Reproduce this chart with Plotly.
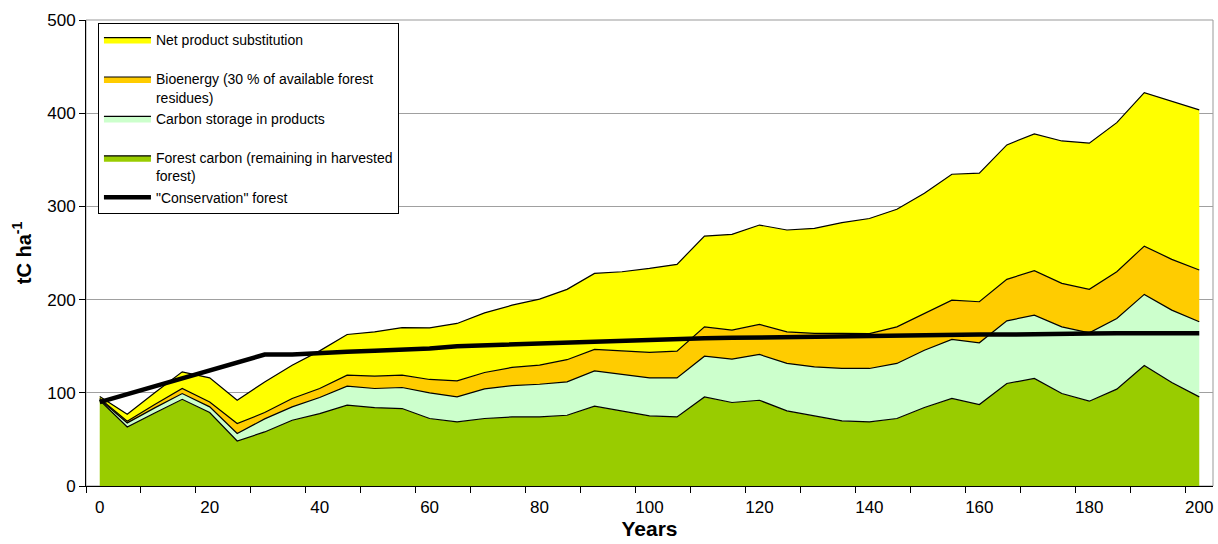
import plotly.graph_objects as go

years = [0, 5, 10, 15, 20, 25, 30, 35, 40, 45, 50, 55, 60, 65, 70, 75, 80, 85, 90, 95,
         100, 105, 110, 115, 120, 125, 130, 135, 140, 145, 150, 155, 160, 165, 170, 175,
         180, 185, 190, 195, 200]

forest_carbon = [92, 63.4, 78.4, 93, 78.8, 48.3, 58, 70.6, 77.7, 86.7, 84.2, 83.1, 72.4,
                 68.7, 72.4, 74.1, 74.1, 75.9, 85.6, 80.6, 75.2, 74.1, 95.6, 89.6, 92,
                 80.6, 74.9, 69.8, 68.7, 72.4, 84.2, 93.9, 87.4, 110, 115.4, 99.2, 91,
                 103.9, 129.3, 111.1, 95.6]

product_storage = [1, 4.3, 5.4, 6.2, 6.1, 8, 14, 14.3, 17.2, 20.4, 20.4, 22.6, 27.5,
                   26.9, 31.8, 33.7, 35.1, 35.8, 37.9, 39, 40.8, 41.9, 43.7, 46.5, 49.1,
                   50.9, 52.9, 56.3, 57.4, 59.1, 61.5, 63.4, 66.2, 67.2, 67.9, 71.6, 73.3,
                   75.9, 76.3, 77.6, 80.6]

bioenergy = [1, 1.8, 3.6, 5.4, 5.3, 10.7, 6.8, 9, 9.7, 11.8, 13.2, 13.2, 14.4, 17.2,
             17.6, 19.4, 20.4, 23.8, 23, 25.1, 27.3, 28.7, 31.5, 31.1, 32.2, 33.9, 35.9,
             37.6, 37.4, 39.3, 39.5, 42.1, 44.1, 44.5, 47.7, 46.6, 46.7, 50.1, 51.8,
             54.5, 55.5]

substitution = [2, 7.5, 12.6, 17.9, 25.8, 25, 32.9, 35.7, 40.4, 43.7, 47.6, 51.1, 55.4,
                61.6, 64, 66.8, 70.9, 75.5, 81.6, 85.2, 90.2, 93.1, 97.4, 102.8, 106.7,
                109.3, 112.8, 118.8, 123.5, 126.1, 128.8, 135.1, 137.9, 144.3, 146.8,
                152.8, 156.8, 160, 164.7, 169.3, 171.8]

conservation = [90, 98.5, 107, 115.5, 124, 132.5, 141, 141, 143, 144, 145, 146, 147.5,
                150, 151, 152, 153, 154, 155.5, 156, 157, 158, 158.5, 159, 159.5, 160,
                160.5, 161, 161.5, 162, 162, 162, 162.5, 162.5, 162.5, 163, 163.5, 164,
                164, 164, 164]

names = {
    "sub": "Net product substitution<br>&nbsp;",
    "bio": "Bioenergy (30 % of available forest<br>residues)",
    "prod": "Carbon storage in products<br>&nbsp;",
    "forest": "Forest carbon (remaining in harvested<br>forest)",
    "cons": "\"Conservation\" forest",
}

FONT = "Liberation Sans, Arial, sans-serif"

fig = go.Figure()
layers = [
    ("forest", forest_carbon, "#99CC00", 4),
    ("prod", product_storage, "#CCFFCC", 3),
    ("bio", bioenergy, "#FFCC00", 2),
    ("sub", substitution, "#FFFF00", 1),
]
for key, vals, col, rank in layers:
    fig.add_trace(go.Scatter(
        x=years, y=vals, name=names[key], mode="lines",
        stackgroup="one", fillcolor=col,
        line=dict(color="black", width=1.2),
        legendrank=rank,
    ))

fig.add_trace(go.Scatter(
    x=years, y=conservation, name=names["cons"], mode="lines",
    line=dict(color="black", width=4.5), legendrank=5,
))

fig.update_layout(
    width=1218, height=544,
    margin=dict(l=86, r=5, t=20, b=58),
    paper_bgcolor="white", plot_bgcolor="white",
    font=dict(family=FONT, color="black", size=17),
    showlegend=True,
    legend=dict(
        x=0.0106, y=0.9936, xanchor="left", yanchor="top",
        bgcolor="white", bordercolor="black", borderwidth=1,
        font=dict(size=14, family=FONT), valign="top",
        traceorder="normal", itemwidth=47,
    ),
    shapes=[dict(type="rect", xref="paper", yref="paper", x0=0, x1=1, y0=0, y1=1,
                 line=dict(color="#999999", width=1), layer="below")],
)

fig.update_xaxes(
    range=[-2.5, 202.5], tickmode="linear", tick0=0, dtick=20,
    ticks="outside", ticklen=6, tickcolor="rgba(0,0,0,0)",
    minor=dict(tickmode="linear", tick0=-2.5, dtick=10, ticks="outside",
               ticklen=6, tickcolor="black", showgrid=False),
    showline=True, linecolor="black", linewidth=1,
    showgrid=False, zeroline=False, automargin=False,
    ticklabeloverflow="allow",
    tickfont=dict(size=17),
    title=dict(text="<b>Years</b>", font=dict(size=21), standoff=0),
)
fig.update_yaxes(
    range=[0, 500], tickmode="linear", tick0=0, dtick=100,
    ticks="outside", ticklen=6, tickcolor="black",
    showline=True, linecolor="black", linewidth=1,
    showgrid=True, gridcolor="#a0a0a0", gridwidth=1, zeroline=False,
    automargin=False,
    tickfont=dict(size=17),
    title=dict(text="<b>tC ha<sup>-1</sup></b>", font=dict(size=20), standoff=10),
)

fig.write_html("out.html", config={"displayModeBar": False},
               post_script="document.body.style.margin='0';")
